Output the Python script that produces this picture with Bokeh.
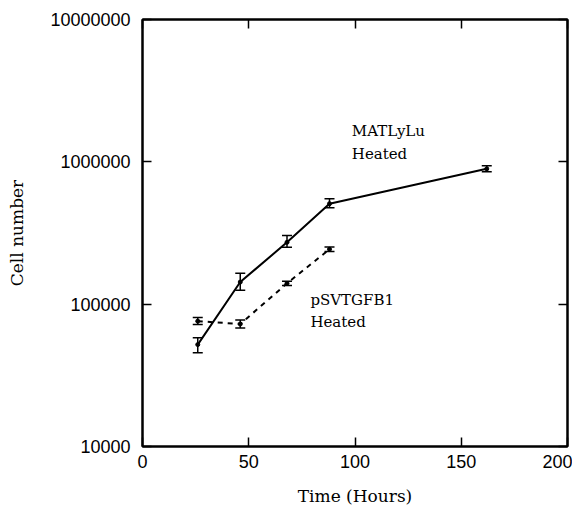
from bokeh.plotting import figure
from bokeh.models import LogAxis, LinearAxis, FixedTicker, Whisker, ColumnDataSource, Label, Range1d, CustomJSTickFormatter, TeeHead
from bokeh.embed import file_html
from bokeh.resources import INLINE

# Data
mat_t = [26, 46, 68, 88, 162]
mat_n = [52000, 143000, 272000, 508000, 893000]
mat_lo = [45500, 125000, 251000, 476000, 851000]
mat_hi = [58000, 165000, 304000, 551000, 937000]

psv_t = [26, 46, 68, 88]
psv_n = [76000, 72500, 140000, 243000]
psv_lo = [72000, 68000, 135000, 234000]
psv_hi = [80500, 77500, 145000, 252000]

x_ticks = [0, 50, 100, 150, 200]
y_ticks = [10000, 100000, 1000000, 10000000]

p = figure(width=572, height=508, output_backend="svg", toolbar_location=None,
           x_range=Range1d(0, 200), y_range=Range1d(10000, 10000000),
           y_axis_type="log", min_border_left=142, min_border_right=5,
           min_border_top=19, min_border_bottom=58)
p.background_fill_color = "white"
p.border_fill_color = "white"
p.grid.visible = False
p.outline_line_color = "black"
p.outline_line_width = 2

tick_font = "Liberation Sans"
lab_font = "DejaVu Serif"

for ax in [p.xaxis[0], p.yaxis[0]]:
    ax.axis_line_width = 2
    ax.major_tick_in = 9
    ax.major_tick_out = 0
    ax.minor_tick_line_color = None
    ax.major_tick_line_width = 1.5
    ax.major_label_text_font = tick_font
    ax.major_label_text_font_size = "18px"
    ax.major_label_text_color = "black"
    ax.axis_label_text_font = lab_font
    ax.axis_label_text_font_style = "normal"
    ax.axis_label_text_color = "black"

p.xaxis[0].axis_label_text_font_size = "17px"
p.yaxis[0].axis_label_text_font_size = "17px"
p.xaxis[0].ticker = FixedTicker(ticks=x_ticks)
p.yaxis[0].ticker = FixedTicker(ticks=y_ticks)
p.yaxis[0].formatter = CustomJSTickFormatter(code="return Math.round(tick).toString();")
p.xaxis[0].axis_label = "Time (Hours)"
p.yaxis[0].axis_label = "Cell number"
p.xaxis[0].axis_label_standoff = 15
p.yaxis[0].axis_label_standoff = 20
p.xaxis[0].major_label_standoff = 8
p.yaxis[0].major_label_standoff = 12

blank = CustomJSTickFormatter(code="return '';")
top = LinearAxis(ticker=FixedTicker(ticks=x_ticks), formatter=blank,
                 major_tick_in=9, major_tick_out=0, minor_tick_line_color=None,
                 axis_line_width=2, major_tick_line_width=1.5, major_label_standoff=0)
right = LogAxis(ticker=FixedTicker(ticks=y_ticks), formatter=blank,
                major_tick_in=9, major_tick_out=0, minor_tick_line_color=None,
                axis_line_width=2, major_tick_line_width=1.5, major_label_standoff=0)
p.add_layout(top, "above")
p.add_layout(right, "right")

src_m = ColumnDataSource(dict(t=mat_t, n=mat_n, lo=mat_lo, hi=mat_hi))
src_p = ColumnDataSource(dict(t=psv_t, n=psv_n, lo=psv_lo, hi=psv_hi))

p.line("t", "n", source=src_m, line_color="black", line_width=2)
p.line("t", "n", source=src_p, line_color="black", line_width=2, line_dash="5 5")

for src in (src_m, src_p):
    w = Whisker(base="t", lower="lo", upper="hi", source=src, line_color="black",
                line_width=1.5,
                upper_head=TeeHead(size=10, line_color="black", line_width=1.5),
                lower_head=TeeHead(size=10, line_color="black", line_width=1.5))
    p.add_layout(w)
    p.scatter("t", "n", source=src, size=4, color="black")

for txt, x, y in [("MATLyLu", 98.5, 1650000), ("Heated", 98.5, 1140000),
                  ("pSVTGFB1", 79, 107000), ("Heated", 79, 75000)]:
    p.add_layout(Label(x=x, y=y, text=txt, text_font=lab_font, text_font_size="15px",
                       text_color="black", text_baseline="middle"))

open("out.html", "w").write(file_html(p, INLINE))
